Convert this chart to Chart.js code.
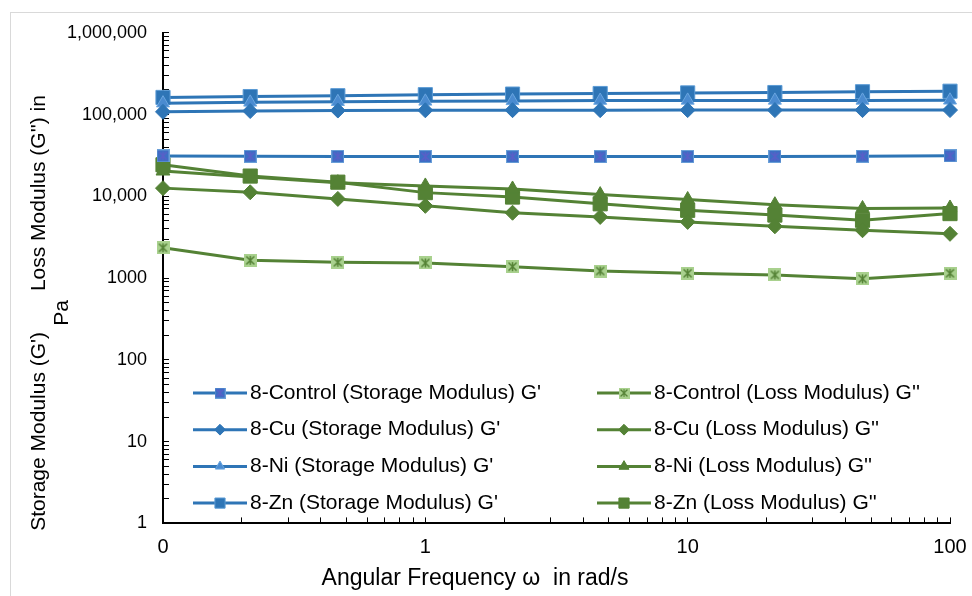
<!DOCTYPE html>
<html>
<head>
<meta charset="utf-8">
<script src="https://cdn.jsdelivr.net/npm/chart.js@4.4.1/dist/chart.umd.min.js"></script>
<style>
  html, body { margin: 0; padding: 0; background: #fff; }
</style>
</head>
<body>
<canvas id="modulusChart" width="972" height="596"></canvas>
<script>
// angular frequency (rad/s), log spaced
const frequency = [0.1, 0.215, 0.464, 1, 2.15, 4.64, 10, 21.5, 46.4, 100];

// storage modulus G' (Pa)
const controlStorage = [31200, 30900, 30800, 30700, 30600, 30600, 30700, 30800, 30900, 31300];
const cuStorage = [108000, 110500, 112000, 112800, 113200, 113300, 113400, 113400, 113400, 113500];
const niStorage = [138000, 141000, 143500, 145000, 147000, 148500, 149000, 149000, 149000, 149500];
const znStorage = [162000, 166000, 170000, 175000, 178000, 181000, 184000, 186000, 190000, 193000];

// loss modulus G'' (Pa)
const controlLoss = [2350, 1650, 1560, 1530, 1380, 1220, 1145, 1095, 980, 1145];
const cuLoss = [12600, 11200, 9300, 7650, 6300, 5600, 4870, 4300, 3850, 3480];
const niLoss = [20400, 17200, 14700, 13400, 12300, 10500, 9150, 7900, 7100, 7200];
const znLoss = [24300, 17700, 14900, 11100, 9800, 8100, 6750, 5900, 5100, 6150];

const xTickValues = [0.1, 1, 10, 100];
const xTickLabels = ['0', '1', '10', '100'];
const yTickValues = [1, 10, 100, 1000, 10000, 100000, 1000000];
const yTickLabels = ['1', '10', '100', '1000', '10,000', '100,000', '1,000,000'];

const BLUE = '#2e75b6';
const GREEN = '#548235';
const FONT = "'Liberation Sans', Arial, sans-serif";

Chart.defaults.font.family = FONT;
Chart.defaults.color = '#000';

// square marker with an asterisk, like the Excel "control" markers
function asteriskMarker(size, fill, edge, cross) {
  const c = document.createElement('canvas');
  c.width = c.height = size;
  const g = c.getContext('2d');
  g.fillStyle = fill;
  g.fillRect(0, 0, size, size);
  g.strokeStyle = edge;
  g.lineWidth = 1;
  g.strokeRect(0.5, 0.5, size - 1, size - 1);
  g.strokeStyle = cross;
  g.lineWidth = 1.5;
  g.beginPath();
  g.moveTo(2.5, 2.5); g.lineTo(size - 2.5, size - 2.5);
  g.moveTo(size - 2.5, 2.5); g.lineTo(2.5, size - 2.5);
  g.moveTo(size / 2, 2); g.lineTo(size / 2, size - 2);
  g.stroke();
  return c;
}

function points(values) {
  return frequency.map((f, i) => ({ x: f, y: values[i] }));
}

function series(label, values, color, style, radius, fill, edge) {
  return {
    label: label,
    data: points(values),
    borderColor: color,
    borderWidth: 3,
    pointStyle: style,
    pointRadius: radius,
    pointHoverRadius: radius,
    pointBackgroundColor: fill || color,
    pointBorderColor: edge || fill || color,
    pointBorderWidth: 1,
    clip: false
  };
}

function decadeTicks(lo, hi) {
  const ticks = [];
  for (let p = lo; p < hi; p *= 10) {
    for (let m = 1; m < 10; m++) ticks.push({ value: +(m * p).toPrecision(3) });
  }
  ticks.push({ value: hi });
  return ticks;
}

// legend drawn inside the plot, two columns of four like the original
const insideLegend = {
  id: 'insideLegend',
  afterDraw(chart) {
    const ctx = chart.ctx;
    ctx.save();
    ctx.font = '21px ' + FONT;
    ctx.textBaseline = 'middle';
    chart.data.datasets.forEach((ds, i) => {
      const col = Math.floor(i / 4);
      const row = i % 4;
      const x0 = col ? 597 : 193;
      const y = 393 + row * 36.7;
      ctx.strokeStyle = ds.borderColor;
      ctx.lineWidth = 3;
      ctx.beginPath();
      ctx.moveTo(x0, y);
      ctx.lineTo(x0 + 54, y);
      ctx.stroke();
      if (ds.pointStyle instanceof HTMLCanvasElement) {
        ctx.drawImage(ds.pointStyle, x0 + 21.5, y - 5.5, 11, 11);
      } else {
        ctx.fillStyle = ds.pointBackgroundColor;
        ctx.strokeStyle = ds.pointBorderColor;
        ctx.lineWidth = 1;
        Chart.helpers.drawPoint(ctx, { pointStyle: ds.pointStyle, radius: ds.pointRadius * 0.72, borderWidth: 1 }, x0 + 27, y);
      }
      ctx.fillStyle = '#000';
      ctx.fillText(ds.label, x0 + 57, y);
    });
    ctx.restore();
  }
};

const frame = {
  id: 'frame',
  beforeDraw(chart) {
    const ctx = chart.ctx;
    ctx.save();
    ctx.fillStyle = '#fff';
    ctx.fillRect(0, 0, chart.width, chart.height);
    ctx.strokeStyle = '#d9d9d9';
    ctx.lineWidth = 1;
    ctx.strokeRect(10.5, 12.5, 1000, 1000);
    ctx.restore();
  }
};

const controlBlue = asteriskMarker(13, '#3c6fc4', '#6a9fd8', '#5a5fc8');
const controlGreen = asteriskMarker(13, '#a9d18e', '#a9d18e', '#548235');

const ctx = document.getElementById('modulusChart').getContext('2d');
const modulusChart = new Chart(ctx, {
  type: 'line',
  data: {
    datasets: [
      series("8-Control (Storage Modulus) G'", controlStorage, BLUE, controlBlue, 7),
      series("8-Cu (Storage Modulus) G'", cuStorage, BLUE, 'rectRot', 7.5),
      series("8-Ni (Storage Modulus) G'", niStorage, BLUE, 'triangle', 7.5, '#4a8bd0', '#6aa6e0'),
      series("8-Zn (Storage Modulus) G'", znStorage, BLUE, 'rect', 10, BLUE, '#5b9bd5'),
      series("8-Control (Loss Modulus) G''", controlLoss, GREEN, controlGreen, 7),
      series("8-Cu (Loss Modulus) G''", cuLoss, GREEN, 'rectRot', 7.5),
      series("8-Ni (Loss Modulus) G''", niLoss, GREEN, 'triangle', 8),
      series("8-Zn (Loss Modulus) G''", znLoss, GREEN, 'rect', 10)
    ]
  },
  options: {
    responsive: false,
    animation: false,
    devicePixelRatio: 1,
    layout: { padding: { left: 0, top: 30, right: 22, bottom: 0 } },
    plugins: {
      legend: { display: false },
      tooltip: { enabled: false },
      title: {
        display: true,
        position: 'left',
        text: ["Storage Modulus (G')       Loss Modulus (G'') in", 'Pa'],
        color: '#000',
        font: { family: FONT, size: 21, weight: 'normal', lineHeight: 1.1 },
        // negative bottom padding lets the tick labels use the space beside "Pa"
        padding: { top: 28, bottom: -12 }
      },
      subtitle: {
        display: true,
        position: 'bottom',
        text: 'Angular Frequency \u03c9  in rad/s',
        color: '#000',
        font: { family: FONT, size: 23, weight: 'normal', lineHeight: 1.2 },
        padding: { top: 6, bottom: 4 }
      }
    },
    scales: {
      x: {
        type: 'logarithmic',
        min: 0.1,
        max: 100,
        afterBuildTicks: (scale) => { scale.ticks = decadeTicks(0.1, 100); },
        afterFit: (scale) => {
          scale.height = 35;
          scale.paddingLeft = 0;
          scale.paddingRight = 0;
        },
        ticks: {
          autoSkip: false,
          maxRotation: 0,
          padding: 18,
          color: '#000',
          font: { size: 20 },
          callback: (value) => {
            const i = xTickValues.indexOf(value);
            return i >= 0 ? xTickLabels[i] : '';
          }
        },
        grid: { drawOnChartArea: false, drawTicks: true, tickLength: -6, tickColor: '#000', tickWidth: 1 },
        border: { color: '#000', width: 2 }
      },
      y: {
        type: 'logarithmic',
        min: 1,
        max: 1000000,
        afterBuildTicks: (scale) => { scale.ticks = decadeTicks(1, 1000000); },
        afterFit: (scale) => { scale.width = 100.8; },
        ticks: {
          autoSkip: false,
          padding: 22,
          color: '#000',
          font: { size: 18 },
          callback: (value) => {
            const i = yTickValues.indexOf(value);
            return i >= 0 ? yTickLabels[i] : '';
          }
        },
        grid: { drawOnChartArea: false, drawTicks: true, tickLength: -6, tickColor: '#000', tickWidth: 1 },
        border: { color: '#000', width: 2 }
      }
    }
  },
  plugins: [frame, insideLegend]
});
</script>
</body>
</html>
